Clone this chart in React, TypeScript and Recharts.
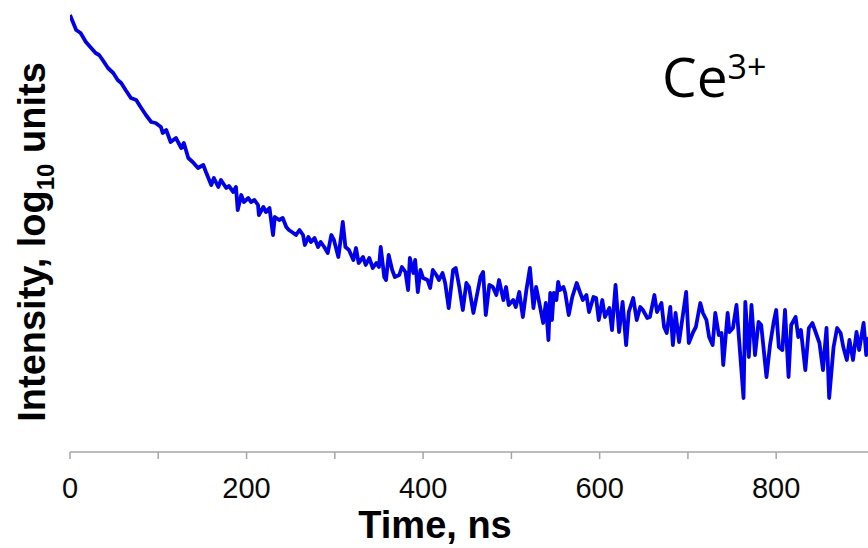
import { CartesianGrid, Customized, Line, LineChart, XAxis, YAxis } from 'recharts'

// time axis (ns)
const times = [
    0, 7, 12, 18, 24, 29, 33, 37, 43, 49, 54, 58, 63, 69, 75, 80, 86, 92, 97, 103, 105, 109, 114, 120, 126, 129,
    134, 139, 145, 151, 154, 160, 163, 168, 171, 177, 180, 185, 188, 190, 194, 197, 202, 205, 209, 213, 214, 219,
    222, 226, 230, 232, 237, 241, 245, 248, 253, 256, 260, 264, 266, 270, 273, 277, 281, 284, 288, 292, 296, 299,
    304, 307, 309, 312, 316, 321, 324, 327, 332, 335, 339, 343, 347, 350, 352, 356, 358, 361, 365, 368, 373, 376,
    380, 383, 385, 389, 391, 394, 397, 400, 405, 408, 411, 415, 418, 422, 425, 429, 434, 437, 441, 445, 449, 452,
    457, 461, 465, 468, 471, 475, 479, 483, 486, 491, 494, 497, 502, 505, 509, 513, 517, 521, 525, 528, 531, 536,
    539, 542, 544, 546, 548, 551, 553, 555, 559, 561, 565, 569, 574, 578, 581, 585, 588, 593, 596, 599, 603, 606,
    611, 614, 618, 622, 626, 630, 633, 638, 642, 646, 649, 654, 657, 662, 665, 670, 673, 676, 680, 683, 686, 690,
    693, 698, 701, 706, 709, 714, 717, 721, 724, 728, 731, 735, 738, 740, 745, 747, 751, 755, 758, 763, 765, 769,
    772, 776, 780, 783, 789, 793, 797, 800, 803, 807, 810, 814, 817, 822, 825, 828, 833, 837, 841, 845, 849, 853,
    857, 860, 865, 869, 873, 876, 880, 883, 887, 891, 894, 899, 902, 904
]

// intensity, log10 units (arbitrary offset)
const intensity = [
    4.37, 4.22, 4.19, 4.1, 4.04, 3.99, 3.97, 3.92, 3.84, 3.79, 3.72, 3.69, 3.62, 3.54, 3.52, 3.45, 3.37, 3.3, 3.29,
    3.25, 3.19, 3.22, 3.1, 3.14, 3.04, 3.09, 2.94, 2.9, 2.84, 2.87, 2.8, 2.67, 2.74, 2.65, 2.72, 2.64, 2.66, 2.6,
    2.65, 2.42, 2.57, 2.5, 2.54, 2.5, 2.52, 2.47, 2.37, 2.45, 2.4, 2.44, 2.17, 2.35, 2.32, 2.34, 2.25, 2.22, 2.19,
    2.17, 2.22, 2.17, 2.07, 2.15, 2.1, 2.14, 2.05, 2.1, 2.05, 1.99, 2.17, 2.12, 1.95, 2.15, 2.3, 2.05, 2.02, 1.92,
    2.04, 1.89, 1.95, 1.87, 1.94, 1.84, 1.89, 1.85, 2.05, 1.75, 1.72, 1.97, 1.82, 1.75, 1.77, 1.85, 1.8, 1.62, 1.94,
    1.79, 1.92, 1.6, 1.82, 1.74, 1.72, 1.64, 1.82, 1.77, 1.72, 1.79, 1.69, 1.44, 1.82, 1.84, 1.65, 1.42, 1.69, 1.65,
    1.39, 1.57, 1.75, 1.8, 1.37, 1.67, 1.65, 1.57, 1.72, 1.52, 1.65, 1.47, 1.52, 1.45, 1.6, 1.35, 1.62, 1.84, 1.44,
    1.65, 1.52, 1.29, 1.49, 1.12, 1.59, 1.32, 1.59, 1.52, 1.7, 1.62, 1.65, 1.59, 1.37, 1.55, 1.69, 1.59, 1.52, 1.57,
    1.4, 1.55, 1.54, 1.32, 1.52, 1.35, 1.44, 1.22, 1.67, 1.2, 1.5, 1.07, 1.4, 1.54, 1.32, 1.45, 1.42, 1.34, 1.35,
    1.57, 1.4, 1.49, 1.25, 1.19, 1.45, 1.07, 1.39, 1.1, 1.29, 1.6, 1.09, 1.2, 1.25, 1.49, 1.39, 1.32, 1.15, 1.07,
    1.39, 1.17, 1.19, 0.87, 1.39, 1.2, 1.24, 1.47, 1.12, 0.54, 1.5, 0.95, 1.47, 0.97, 1.3, 1.27, 0.75, 1.07, 1.29,
    1.42, 1.05, 1.02, 1.42, 0.75, 1.27, 1.35, 1.15, 1.22, 0.82, 1.24, 1.29, 1.19, 1.09, 0.82, 1.24, 0.54, 1.05, 1.24,
    1.19, 1.05, 0.92, 1.12, 0.92, 1.2, 1.02, 1.29, 0.97, 1.15
]

const timeTicks = [0, 100, 200, 300, 400, 500, 600, 700, 800]

const data = times.map((t, i) => ({ t, v: intensity[i] }))

const AXIS_GREY = '#a6a6a6'
const SANS = '"Liberation Sans", Arial, Helvetica, sans-serif'

function TitleLayer() {
    return (
        <g>
            <text x={435} y={538} textAnchor='middle' fontFamily={SANS} fontWeight='bold' fontSize={38} fill='#000'>
                Time, ns
            </text>
            <text
                x={45}
                y={242}
                textAnchor='middle'
                transform='rotate(-90 45 242)'
                fontFamily={SANS}
                fontWeight='bold'
                fontSize={38}
                fill='#000'
            >
                Intensity, log
                <tspan fontSize={24} dy={9}>
                    10
                </tspan>
                <tspan dy={-9}> units</tspan>
            </text>
            <text x={662} y={97} fontFamily='"Open Sans", sans-serif' fontSize={55} fill='#000'>
                Ce
                <tspan fontSize={34} dy={-18}>
                    3+
                </tspan>
            </text>
        </g>
    )
}

export default function App() {
    return (
        <div style={{ position: 'absolute', left: 0, top: 0, background: '#fff' }}>
            <LineChart width={868} height={548} data={data} margin={{ top: 10, right: 0, bottom: 0, left: 70 }}>
                <CartesianGrid stroke='none' />
                <XAxis
                    dataKey='t'
                    type='number'
                    domain={[0, 904]}
                    ticks={timeTicks}
                    tickFormatter={(v: number) => (v % 200 === 0 ? String(v) : '')}
                    height={96}
                    tickSize={7}
                    tickMargin={18}
                    axisLine={{ stroke: AXIS_GREY, strokeWidth: 1.5 }}
                    tickLine={{ stroke: AXIS_GREY, strokeWidth: 1.5 }}
                    tick={{ fill: '#0a0a0a', fontSize: 29, fontFamily: SANS }}
                    allowDataOverflow
                />
                <YAxis
                    type='number'
                    domain={[0, 4.42]}
                    width={0}
                    tick={false}
                    tickLine={false}
                    axisLine={{ stroke: AXIS_GREY, strokeWidth: 1.5 }}
                    allowDataOverflow
                />
                <Line
                    type='linear'
                    dataKey='v'
                    stroke='#0000ee'
                    strokeWidth={3.8}
                    strokeLinejoin='round'
                    dot={false}
                    activeDot={false}
                    isAnimationActive={false}
                />
                <Customized component={TitleLayer} />
            </LineChart>
        </div>
    )
}
